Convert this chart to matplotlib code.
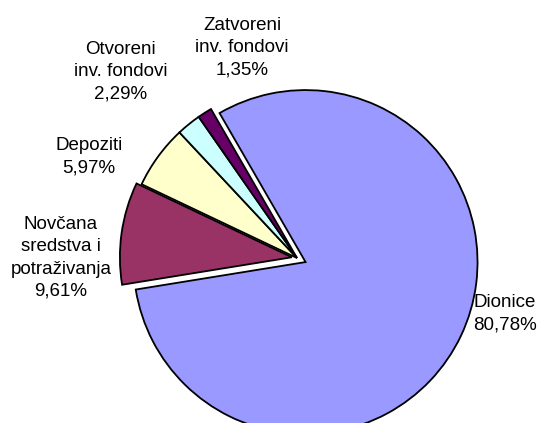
import matplotlib.pyplot as plt

# udjeli u portfelju (%)
kategorije = ['Dionice', 'Novčana\nsredstva i\npotraživanja', 'Depoziti',
              'Otvoreni\ninv. fondovi', 'Zatvoreni\ninv. fondovi']
udjeli = [80.78, 9.61, 5.97, 2.29, 1.35]
oznake = ['80,78%', '9,61%', '5,97%', '2,29%', '1,35%']

boje = ['#9999FF', '#993366', '#FFFFCC', '#CCFFFF', '#660066']
razmak = [0.055, 0.03, 0, 0, 0]
# položaj natpisa (udio širine/visine slike)
pozicije = [(0.937, 0.258), (0.113, 0.39), (0.165, 0.63), (0.224, 0.83), (0.449, 0.887)]

plt.rcParams['font.family'] = ['Liberation Sans', 'DejaVu Sans']

fig = plt.figure(figsize=(5.39, 4.23), dpi=100)
ax = fig.add_axes([0, 0, 1, 1])
ax.pie(udjeli, colors=boje, explode=razmak, startangle=120, counterclock=False,
       wedgeprops={'edgecolor': 'black', 'linewidth': 1.3})
ax.set_aspect('equal')
r_px = 172
cx, cy = 297, 258
ax.set_xlim(-cx / r_px, (539 - cx) / r_px)
ax.set_ylim(-(423 - cy) / r_px, cy / r_px)
ax.axis('off')

for k, o, (px, py) in zip(kategorije, oznake, pozicije):
    fig.text(px, py, k + '\n' + o, ha='center', va='center', fontsize=13.5,
             linespacing=1.4, color='black')

fig.savefig('out.png', dpi=100, facecolor='white')
